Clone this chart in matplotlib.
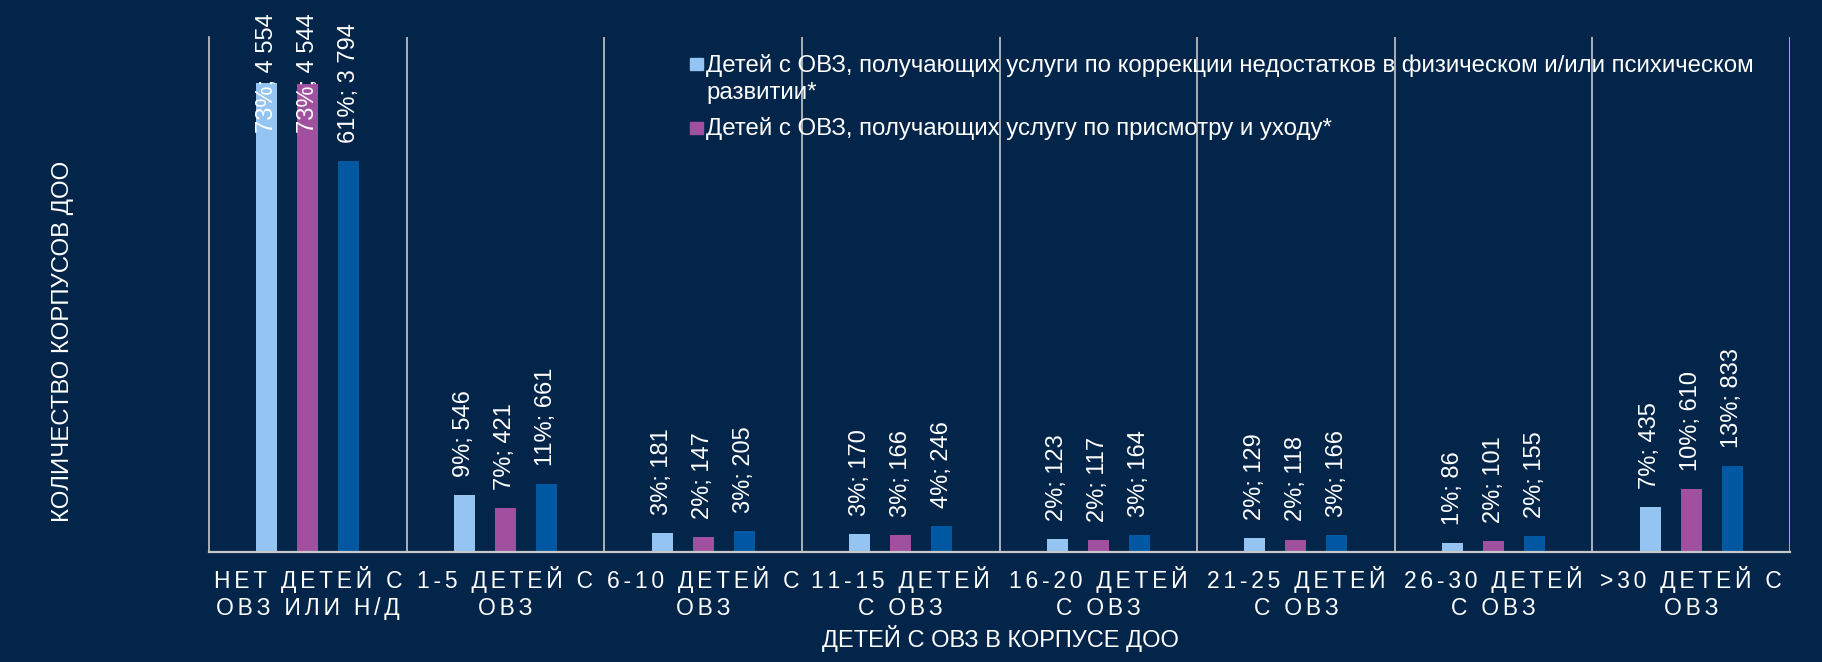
import matplotlib.pyplot as plt
import numpy as np
from matplotlib.patches import Rectangle

categories = ['НЕТ ДЕТЕЙ С\nОВЗ ИЛИ Н/Д', '1-5 ДЕТЕЙ С\nОВЗ', '6-10 ДЕТЕЙ С\nОВЗ',
              '11-15 ДЕТЕЙ\nС ОВЗ', '16-20 ДЕТЕЙ\nС ОВЗ', '21-25 ДЕТЕЙ\nС ОВЗ',
              '26-30 ДЕТЕЙ\nС ОВЗ', '>30 ДЕТЕЙ С\nОВЗ']
correction = [4554, 546, 181, 170, 123, 129, 86, 435]
correction_pct = [73, 9, 3, 3, 2, 2, 1, 7]
care = [4544, 421, 147, 166, 117, 118, 101, 610]
care_pct = [73, 7, 2, 3, 2, 2, 2, 10]
total = [3794, 661, 205, 246, 164, 166, 155, 833]
total_pct = [61, 11, 3, 4, 3, 3, 2, 13]
series_names = ['Детей с ОВЗ, получающих услуги по коррекции недостатков в физическом и/или психическом\nразвитии*',
                'Детей с ОВЗ, получающих услугу по присмотру и уходу*',
                'Всего']

BG = '#03254a'
COLORS = ['#94c4f1', '#a0509e', '#0058a3']
plt.rcParams['font.family'] = ['Liberation Sans', 'DejaVu Sans']
W, H = 1822, 662


def spaced(s, sep='\u2006'):
    # imitate the letter spacing of the category labels
    return '\n'.join(sep.join(line) for line in s.split('\n'))


def fmt(pct, v):
    return f'{pct}%; ' + f'{v:,}'.replace(',', ' ')


fig = plt.figure(figsize=(W / 100, H / 100), dpi=100, facecolor=BG)
ax = fig.add_axes([209 / W, 1 - 551.7 / H, 1581 / W, 514.7 / H])
ax.set_facecolor(BG)

x = np.arange(len(categories))
w = 0.106
offsets = [-0.2075, 0, 0.2075]
data = [(correction, correction_pct), (care, care_pct), (total, total_pct)]
for k, (vals, pcts) in enumerate(data):
    ax.bar(x + offsets[k], vals, width=w, color=COLORS[k], label=series_names[k])
    for xi, v, p in zip(x + offsets[k], vals, pcts):
        if v > 4000:
            ax.text(xi, 4065, fmt(p, v), rotation=90, ha='center', va='bottom',
                    color='white', fontsize=17, clip_on=False)
        else:
            ax.annotate(fmt(p, v), (xi, v), xytext=(0, 13), textcoords='offset points',
                        rotation=90, ha='center', va='bottom', color='white',
                        fontsize=17, annotation_clip=False)

ax.set_xlim(-0.5, len(categories) - 0.5)
ax.set_ylim(0, 5000)
for b in np.arange(0.5, len(categories)):
    ax.axvline(b, color='#c8c8c8', lw=1.2)
for s in ['top', 'right']:
    ax.spines[s].set_visible(False)
ax.spines['left'].set_color('#c8c8c8')
ax.spines['bottom'].set_color('#c8c8c8')
ax.spines['left'].set_linewidth(1.2)
ax.spines['bottom'].set_linewidth(1.6)
ax.set_yticks([])
ax.set_xticks(x)
ax.set_xticklabels([spaced(c) for c in categories], color='white', fontsize=16.5,
                   linespacing=1.22)
ax.tick_params(axis='x', length=0, pad=10)

fig.text(1000 / W, 1 - 639 / H, 'ДЕТЕЙ С ОВЗ В КОРПУСЕ ДОО', ha='center',
         va='center', color='white', fontsize=17)
fig.text(63 / W, 1 - 341 / H, 'КОЛИЧЕСТВО КОРПУСОВ ДОО', rotation=90,
         ha='center', va='center', color='white', fontsize=17.3)

# legend: only the first two series are listed, marker beside the first line
leg_rows = [58.5, 122]
for k in range(2):
    top = leg_rows[k]
    fig.patches.append(Rectangle((690 / W, 1 - (top + 11.5) / H), 12.5 / W, 11.5 / H,
                                 transform=fig.transFigure, color=COLORS[k]))
    fig.text(706 / W, 1 - (top - 4.5) / H, series_names[k], ha='left', va='top',
             color='white', fontsize=17.3, linespacing=1.32)

fig.savefig('out.png', dpi=100, facecolor=BG)
